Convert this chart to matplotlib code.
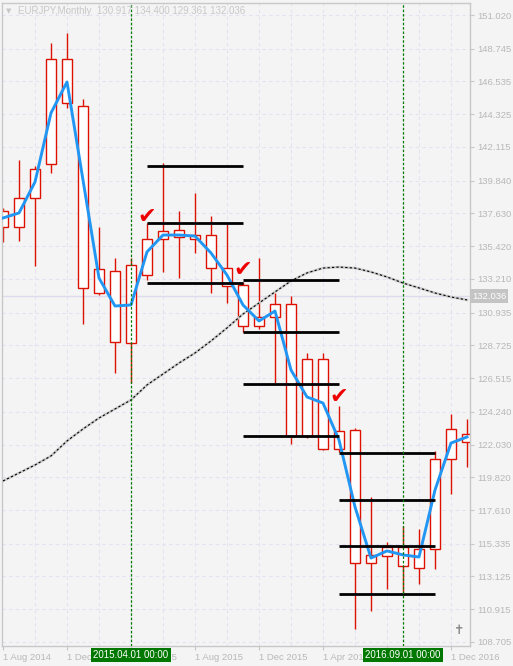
import matplotlib
matplotlib.use('Agg')
import matplotlib.pyplot as plt
from matplotlib.transforms import blended_transform_factory

# Monthly EURJPY candles, Aug 2014 .. Jan 2017
months = ['2014-08', '2014-09', '2014-10', '2014-11', '2014-12',
          '2015-01', '2015-02', '2015-03', '2015-04', '2015-05',
          '2015-06', '2015-07', '2015-08', '2015-09', '2015-10',
          '2015-11', '2015-12', '2016-01', '2016-02', '2016-03',
          '2016-04', '2016-05', '2016-06', '2016-07', '2016-08',
          '2016-09', '2016-10', '2016-11', '2016-12', '2017-01']
opens = [137.79, 136.71, 138.67, 140.96, 148.05, 144.88, 132.26, 133.74,
         128.88, 133.47, 135.90, 136.51, 136.17, 136.17, 133.94, 132.80,
         130.03, 130.64, 131.52, 122.61, 127.80, 121.73, 123.01, 114.04,
         115.12, 115.12, 113.70, 114.98, 121.05, 122.74]
highs = [137.99, 141.23, 140.83, 149.13, 149.81, 145.35, 136.71, 134.62,
         134.62, 136.98, 141.03, 137.79, 139.01, 137.45, 136.91, 133.00,
         134.62, 132.26, 132.06, 128.21, 128.21, 124.63, 123.15, 118.49,
         115.45, 116.53, 116.33, 121.59, 124.09, 123.75]
lows = [135.70, 135.77, 134.08, 140.36, 144.74, 130.17, 132.12, 126.86,
        126.18, 133.14, 133.68, 133.27, 134.96, 132.26, 131.58, 129.63,
        129.83, 126.18, 122.07, 122.47, 121.66, 121.53, 109.58, 110.80,
        112.28, 112.01, 112.62, 113.63, 118.69, 120.51]
closes = [136.71, 138.67, 140.63, 148.05, 145.08, 132.60, 133.88, 128.95,
          134.15, 135.90, 136.44, 136.04, 135.90, 133.94, 132.73, 130.03,
          130.64, 131.52, 122.61, 127.80, 121.73, 122.94, 114.04, 114.58,
          114.51, 113.83, 114.98, 121.05, 123.08, 122.20]

# Fast moving average (blue) and slow moving average (black dashed)
fast_ma = [137.32, 137.66, 139.75, 144.41, 146.50, 139.88, 133.27, 131.38,
           131.45, 135.03, 136.17, 136.17, 136.10, 134.96, 133.47, 131.45,
           130.37, 131.04, 127.06, 125.24, 124.83, 122.34, 117.82, 114.37,
           114.85, 114.58, 114.44, 118.96, 122.13, 122.54]
slow_ma = [119.57, 120.11, 120.65, 121.26, 122.27, 123.08, 123.82, 124.43,
           125.04, 126.05, 126.79, 127.53, 128.21, 129.02, 129.90, 130.84,
           131.58, 132.33, 133.07, 133.61, 133.94, 134.01, 133.94, 133.68,
           133.34, 132.93, 132.60, 132.26, 131.99, 131.79]

# Horizontal level groups drawn on the chart
levels_a = [140.83, 136.98, 132.93]
levels_b = [133.14, 129.63, 126.12, 122.61]
levels_c = [121.46, 118.29, 115.18, 111.94]
span_a = (9, 15)
span_b = (15, 21)
span_c = (21, 27)

# Check marks
check_idx = [9, 15, 21]
check_price = [137.39, 133.81, 125.24]

# Axis labels
y_ticks = [151.020, 148.745, 146.535, 144.325, 142.115, 139.840, 137.630,
           135.420, 133.210, 130.935, 128.725, 126.515, 124.240, 122.030,
           119.820, 117.610, 115.335, 113.125, 110.915, 108.705]
x_tick_idx = [0, 4, 8, 12, 16, 20, 24, 28]
x_tick_labels = ['1 Aug 2014', '1 Dec 2014', '1 Apr 2015', '1 Aug 2015',
                 '1 Dec 2015', '1 Apr 2016', '1 Aug 2016', '1 Dec 2016']
marker_idx = [8, 25]
marker_labels = ['2015.04.01 00:00', '2016.09.01 00:00']
bid_price = 132.036
header = 'EURJPY,Monthly  130.917 134.400 129.361 132.036'

plt.rcParams['font.family'] = ['Liberation Sans', 'DejaVu Sans']

bg = '#f4f4f4'
fig = plt.figure(figsize=(5.13, 6.66), dpi=100, facecolor=bg)
ax = fig.add_axes([2/513, 20/666, 468/513, 643/666], facecolor=bg)

ax.set_xlim(-0.0625, 29.1875)
ax.set_ylim(108.433, 151.83)

# Grid
for p in y_ticks:
    ax.axhline(p, color='#e2e2f2', lw=0.8, ls=(0, (3, 3)), zorder=0)
for i in range(2, 30, 2):
    ax.axvline(i, color='#e2e2f2', lw=0.8, ls=(0, (3, 3)), zorder=0)

# Bid line
ax.axhline(bid_price, color='#dcdcee', lw=1.0, zorder=1)

# Candles: wick then hollow body
xs = list(range(len(months)))
body_lo = [min(o, c) for o, c in zip(opens, closes)]
body_h = [abs(c - o) for o, c in zip(opens, closes)]
ax.vlines(xs, lows, highs, color='#dd1100', lw=1.0, zorder=2)
ax.bar(xs, body_h, bottom=body_lo, width=0.62, facecolor='white',
       edgecolor='#dd1100', linewidth=1.0, zorder=2)

# Moving averages
ax.plot(xs, slow_ma, color='#c8c8c8', lw=1.8, zorder=3)
ax.plot(xs, slow_ma, color='black', lw=0.8, ls=(0, (2, 2)), zorder=3)
ax.plot(xs, fast_ma, color='#2196f3', lw=2.1, zorder=4)

# Level lines
for levels, span in [(levels_a, span_a), (levels_b, span_b), (levels_c, span_c)]:
    ax.hlines(levels, span[0], span[1], color='black', lw=2.0, zorder=5)

# Vertical date markers
for i in marker_idx:
    ax.axvline(i, color='#007a00', lw=0.9, ls=(0, (2, 1.5)), zorder=6)

# Check marks
for i, p in zip(check_idx, check_price):
    ax.text(i, p, '\u2714', color='#ee0000', fontsize=16, ha='center',
            va='center', family='DejaVu Sans', zorder=7)

# Spines and ticks
for s in ax.spines.values():
    s.set_color('#c8c8c8')
    s.set_linewidth(1.0)
ax.yaxis.tick_right()
ax.set_yticks(y_ticks)
ax.set_yticklabels(['%.3f' % v for v in y_ticks])
ax.set_xticks(x_tick_idx)
ax.set_xticklabels(x_tick_labels, ha='left')
ax.tick_params(axis='y', length=3, pad=2, color='#c8c8c8',
               labelcolor='#b8b8b8', labelsize=6.8)
ax.tick_params(axis='x', length=3, pad=2, color='#c8c8c8',
               labelcolor='#b8b8b8', labelsize=6.8)

# Bid label on price axis
ax.text(1.004, bid_price, '%.3f' % bid_price, transform=blended_transform_factory(ax.transAxes, ax.transData),
        color='white', fontsize=6.8, ha='left', va='center', clip_on=False,
        bbox=dict(boxstyle='square,pad=0.25', fc='#c4c4c4', ec='none'), zorder=8)

# Date marker boxes on time axis (they cover the tick labels underneath, as in MT4)
trans = blended_transform_factory(ax.transData, fig.transFigure)
for i, lab in zip(marker_idx, marker_labels):
    ax.text(i, 1 - 655/666, lab, transform=trans, color='white', fontsize=7,
            ha='center', va='center', clip_on=False, zorder=9,
            bbox=dict(boxstyle='square,pad=0.2', fc='#007800', ec='none'))

# Header text
fig.text(6/513, 1 - 11/666, '\u25bc', color='#c8c8c8', fontsize=5,
         family='DejaVu Sans', va='center')
fig.text(18/513, 1 - 11/666, header, color='#c8c8c8', fontsize=7, va='center')

# Cursor glyph near bottom right
ax.text(459/513, 1 - 631/666, '\u271d', transform=fig.transFigure, color='#8a8a8a',
        fontsize=9, ha='center', va='center', family='DejaVu Sans')

fig.savefig('out.png', dpi=100, facecolor=bg)
plt.close(fig)
